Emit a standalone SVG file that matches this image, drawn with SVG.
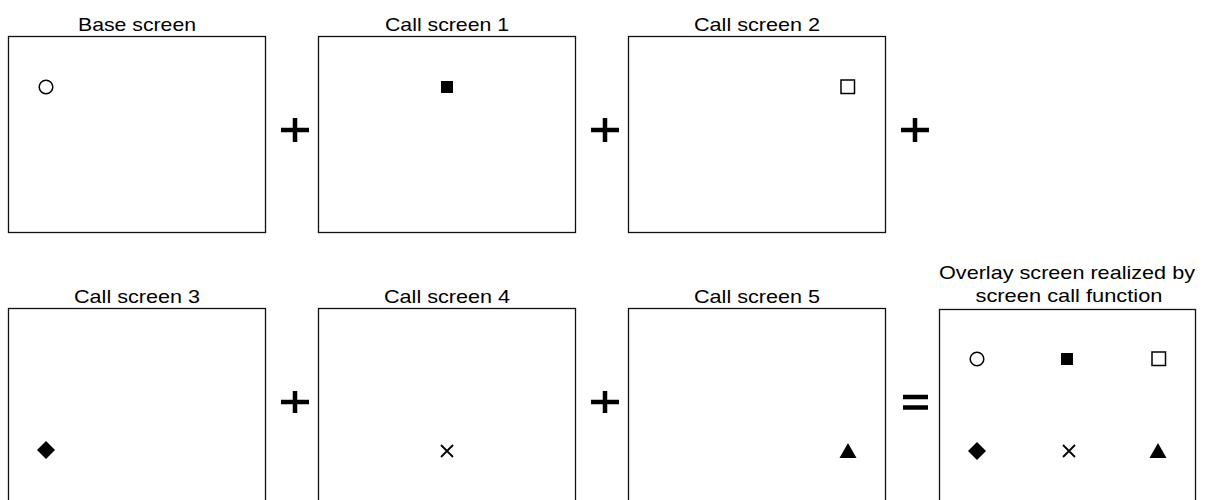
<svg xmlns="http://www.w3.org/2000/svg" width="1208" height="500" viewBox="0 0 1208 500">
<style>
.box{fill:#fff;stroke:#111;stroke-width:1.3}
.lbl{font-family:"Liberation Sans",Arial,sans-serif;font-size:19px;fill:#000;text-anchor:middle}
.op{stroke:#000;stroke-width:4.5;fill:none}
.f{fill:#000}
.o{fill:none;stroke:#000;stroke-width:1.5}
.x{stroke:#000;stroke-width:1.8;fill:none}
</style>
<g id="base">
<rect class="box" x="8.5" y="36.5" width="257" height="196"/>
<text class="lbl" x="137" y="31" textLength="118" lengthAdjust="spacingAndGlyphs">Base screen</text>
<circle class="o" cx="46" cy="87" r="6.8"/>
</g>
<g id="call1">
<rect class="box" x="318.5" y="36.5" width="257" height="196"/>
<text class="lbl" x="447" y="31" textLength="124" lengthAdjust="spacingAndGlyphs">Call screen 1</text>
<rect class="f" x="441" y="81" width="12" height="12"/>
</g>
<g id="call2">
<rect class="box" x="628.5" y="36.5" width="257" height="196"/>
<text class="lbl" x="757" y="31" textLength="126" lengthAdjust="spacingAndGlyphs">Call screen 2</text>
<rect class="o" x="841" y="80" width="13.5" height="13.5"/>
</g>
<g id="call3">
<rect class="box" x="8.5" y="308.5" width="257" height="200"/>
<text class="lbl" x="137" y="303" textLength="126" lengthAdjust="spacingAndGlyphs">Call screen 3</text>
<polygon class="f" points="46,441 55,450 46,459 37,450"/>
</g>
<g id="call4">
<rect class="box" x="318.5" y="308.5" width="257" height="200"/>
<text class="lbl" x="447" y="303" textLength="126" lengthAdjust="spacingAndGlyphs">Call screen 4</text>
<path class="x" d="M441,445 L453,457 M453,445 L441,457"/>
</g>
<g id="call5">
<rect class="box" x="628.5" y="308.5" width="257" height="200"/>
<text class="lbl" x="757" y="303" textLength="126" lengthAdjust="spacingAndGlyphs">Call screen 5</text>
<polygon class="f" points="848,443 856.5,458 839.5,458"/>
</g>
<g id="overlay">
<rect class="box" x="939.5" y="309.5" width="256" height="200"/>
<text class="lbl" x="1067" y="279" textLength="256" lengthAdjust="spacingAndGlyphs">Overlay screen realized by</text>
<text class="lbl" x="1069" y="302" textLength="187" lengthAdjust="spacingAndGlyphs">screen call function</text>
<circle class="o" cx="977" cy="359" r="6.8"/>
<rect class="f" x="1061" y="353" width="12" height="12"/>
<rect class="o" x="1152" y="352" width="13.5" height="13.5"/>
<polygon class="f" points="977,442 986,451 977,460 968,451"/>
<path class="x" d="M1063,445 L1075,457 M1075,445 L1063,457"/>
<polygon class="f" points="1158,443 1166.5,458 1149.5,458"/>
</g>
<g id="operators">
<path class="op" d="M281,130 H309 M295,118 V142"/>
<path class="op" d="M591,130 H619 M605,118 V142"/>
<path class="op" d="M901,130 H929 M915,118 V142"/>
<path class="op" d="M281,402 H309 M295,391 V413"/>
<path class="op" d="M591,402 H619 M605,391 V413"/>
<path class="op" d="M903,397 H928 M903,407.5 H928"/>
</g>
</svg>
